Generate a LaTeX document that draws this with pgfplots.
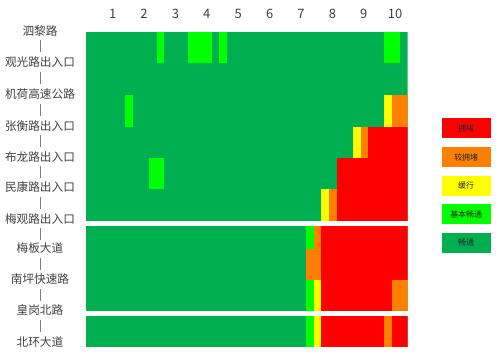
\documentclass[border=0pt]{standalone}
\usepackage{fontspec}
\setmainfont{Noto Sans CJK SC}
\usepackage{pgfplots}
\pgfplotsset{compat=1.18}
\definecolor{cgreen}{RGB}{0,176,80}
\definecolor{bgreen}{RGB}{0,255,0}
\definecolor{cyellow}{RGB}{255,255,0}
\definecolor{corange}{RGB}{255,128,0}
\definecolor{cred}{RGB}{255,0,0}
\definecolor{labgray}{RGB}{64,64,64}
\newcommand{\rect}[5]{\addplot[fill=#1,draw=none,forget plot] coordinates {(#2,#4) (#3,#4) (#3,#5) (#2,#5)};}
\newcommand{\sep}{{\color{gray}\rule{0.9bp}{12bp}}}
\begin{document}
\begin{tikzpicture}
\path[use as bounding box] (0,0) rectangle (502bp,-359bp);
\begin{axis}[
  at={(86bp,-21.7bp)}, anchor=north west,
  width=321.7bp, height=330bp, scale only axis,
  xmin=0, xmax=41, ymin=-10, ymax=320, y dir=reverse,
  axis line style={draw=none}, major tick length=0pt,
  xtick={3.4,7.4,11.4,15.4,19.4,23.4,27.4,31.4,35.4,39.4},
  xticklabels={1,2,3,4,5,6,7,8,9,10},
  xticklabel pos=upper,
  xticklabel style={font=\fontsize{13}{15}\selectfont, text=labgray},
  ytick={-1,14.65,30.3,46.45,62.6,78.3,94,109.5,125,140.3,155.6,171.6,187.6,202.1,216.6,232,247.3,262.8,278.3,294.2,310},
  yticklabels={泗黎路,\sep,观光路出入口,\sep,机荷高速公路,\sep,张衡路出入口,\sep,布龙路出入口,\sep,民康路出入口,\sep,梅观路出入口,\sep,梅板大道,\sep,南坪快速路,\sep,皇岗北路,\sep,北环大道},
  yticklabel style={anchor=center, xshift=-46bp, font=\fontsize{11.7}{13}\selectfont, text=labgray},
]
% green backgrounds (bands)
\rect{cgreen}{0}{41}{0}{189}
\rect{cgreen}{0}{41}{194}{279.3}
\rect{cgreen}{0}{41}{284}{315}
% row 1
\rect{bgreen}{9}{10}{0}{31.6}
\rect{bgreen}{13}{16}{0}{31.6}
\rect{bgreen}{17}{18}{0}{31.6}
\rect{bgreen}{38}{40}{0}{31.6}
% row 3
\rect{bgreen}{5}{6}{63.3}{95}
\rect{cyellow}{38}{39}{63.3}{95}
\rect{corange}{39}{41}{63.3}{95}
% row 4
\rect{cyellow}{34}{35}{95}{126.3}
\rect{corange}{35}{36}{95}{126.3}
\rect{cred}{36}{41}{95}{126.3}
% row 5
\rect{bgreen}{8}{10}{126.3}{157.6}
\rect{cred}{32}{41}{126.3}{157.6}
% row 6
\rect{cyellow}{30}{31}{157.6}{189}
\rect{corange}{31}{32}{157.6}{189}
\rect{cred}{32}{41}{157.6}{189}
% row 7
\rect{bgreen}{28}{29}{194}{217.6}
\rect{corange}{29}{30}{194}{217.6}
\rect{cred}{30}{41}{194}{217.6}
% row 8
\rect{corange}{28}{30}{217.6}{248.3}
\rect{cred}{30}{41}{217.6}{248.3}
% row 9
\rect{bgreen}{28}{29}{248.3}{279.3}
\rect{cyellow}{29}{30}{248.3}{279.3}
\rect{cred}{30}{39}{248.3}{279.3}
\rect{corange}{39}{41}{248.3}{279.3}
% row 10
\rect{bgreen}{28}{29}{284}{315}
\rect{cyellow}{29}{30}{284}{315}
\rect{cred}{30}{38}{284}{315}
\rect{corange}{38}{39}{284}{315}
\rect{cred}{39}{41}{284}{315}
\end{axis}
% legend
\begin{scope}[every node/.style={minimum width=49bp, minimum height=20bp, inner sep=0pt, font=\fontsize{8}{9}\selectfont, text=black!85}]
\node[fill=cred] at (466.2bp,-128.3bp) {拥堵};
\node[fill=corange] at (466.2bp,-157bp) {较拥堵};
\node[fill=cyellow] at (466.2bp,-185.8bp) {缓行};
\node[fill=bgreen] at (466.2bp,-214bp) {基本畅通};
\node[fill=cgreen] at (466.2bp,-242.7bp) {畅通};
\end{scope}
\end{tikzpicture}
\end{document}
